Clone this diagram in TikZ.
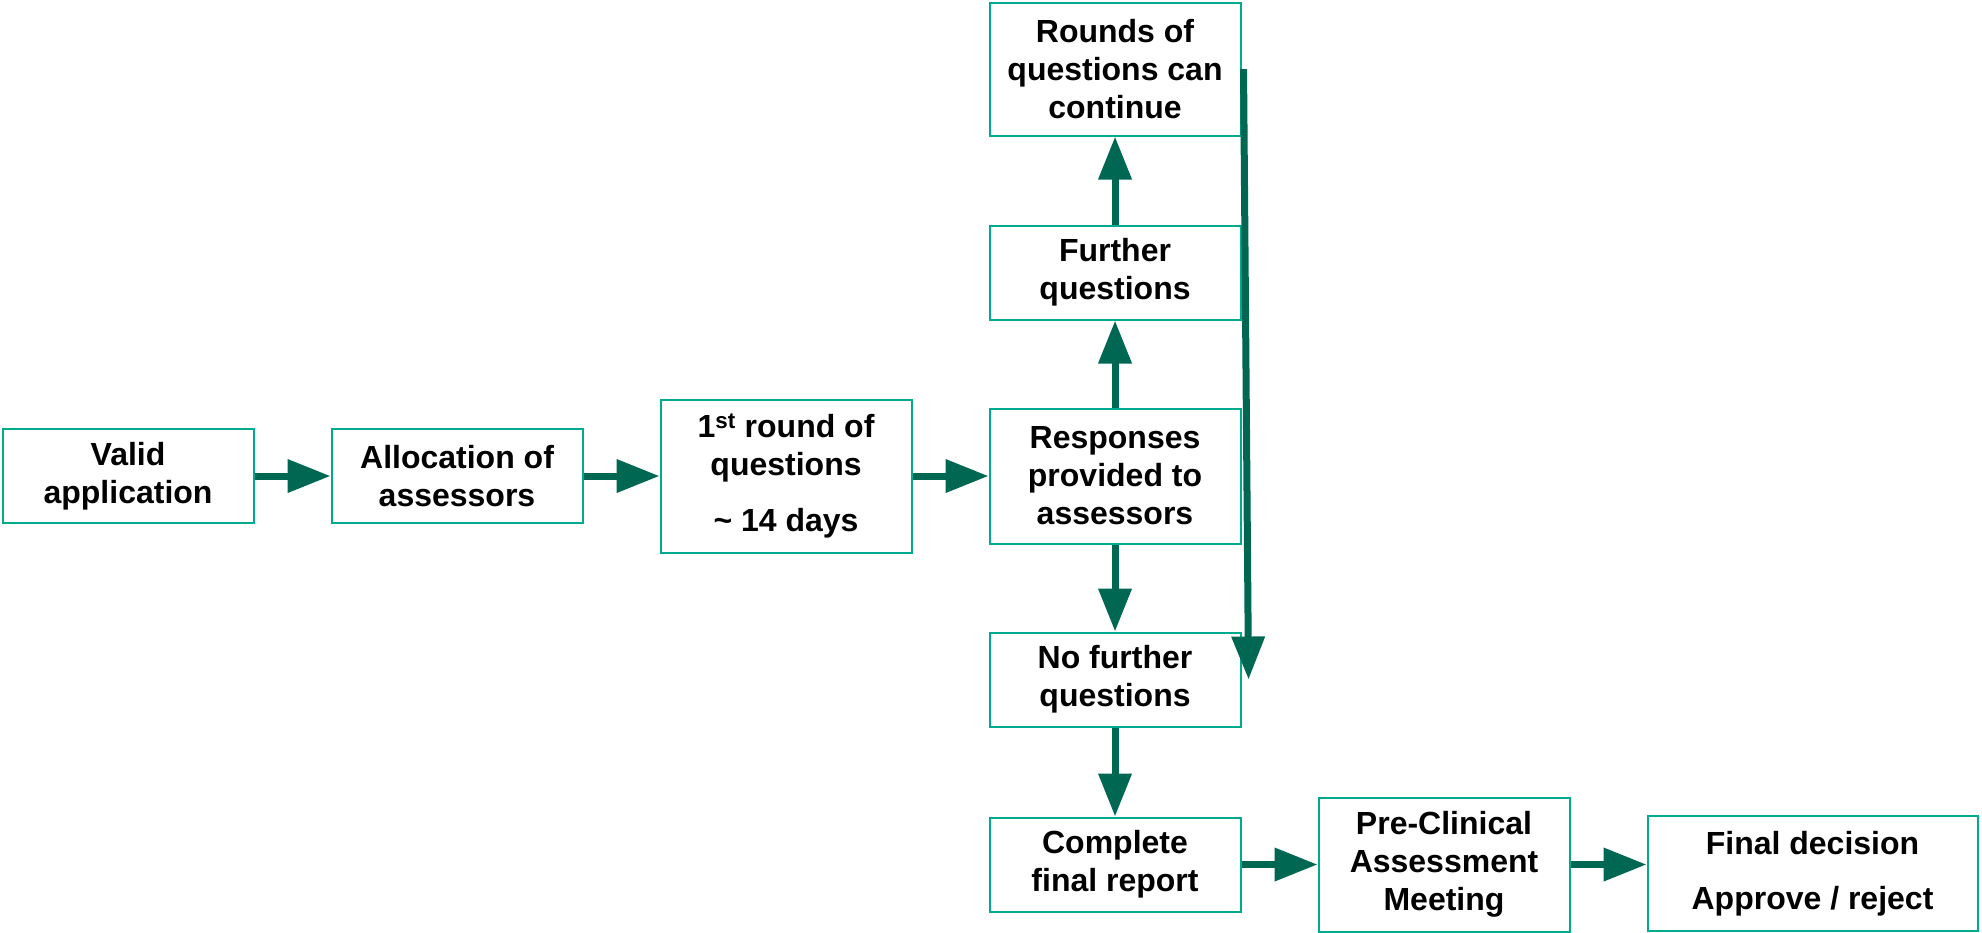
\documentclass[tikz,border=0pt]{standalone}
\usepackage{fontspec}
\setmainfont{Liberation Sans}
\usetikzlibrary{matrix,arrows.meta}
\definecolor{boxline}{RGB}{0,170,142}
\definecolor{flowgreen}{RGB}{0,104,82}

\begin{document}
\begin{tikzpicture}[
box/.style={
  draw=boxline,
  line width=2pt,
  minimum width=251pt,
  minimum height=94pt,
  align=center,
  anchor=center,
  font=\fontsize{32}{38}\selectfont\bfseries
  },
net/.style={
  column sep=76pt,
  row sep={203.5pt,between origins}
  },
flow/.style={
  draw=flowgreen,
  line width=7pt,
  -{Triangle[length=43pt,width=32pt]}
  }
]
\useasboundingbox (0,0) rectangle (1982pt,-933pt);
\matrix[net,anchor=north west] (mat) at (-2pt,2pt)
{
 & & & \node[box,minimum height=133pt] (rounds) {Rounds of\\questions can\\continue}; & & \\
 & & & \node[box] (further) {Further\\questions}; & & \\
\node[box] (valid) {Valid\\application}; &
\node[box] (alloc) {Allocation of\\assessors}; &
\node[box,minimum height=153pt] (first) {1\textsuperscript{st} round of\\questions\\[18pt]\textasciitilde{} 14 days}; &
\node[box,minimum height=135pt] (resp) {Responses\\provided to\\assessors}; & & \\
 & & & \node[box] (nofurther) {No further\\questions}; & & \\[-18.5pt]
 & & & \node[box] (report) {Complete\\final report}; &
\node[box,minimum height=134pt] (meeting) {Pre-Clinical\\Assessment\\Meeting}; &
\node[box,minimum width=330pt,minimum height=115pt,yshift=-9pt] (decision) {Final decision\\[17pt]Approve / reject}; \\
};
\foreach \from/\to in {valid/alloc,alloc/first,first/resp,resp/further,further/rounds,resp/nofurther,nofurther/report,report/meeting}
  \draw[flow] (\from) -- (\to);
\draw[flow] (meeting.east) -- (meeting.east -| decision.west);
% rounds can go back to the end
\draw[flow] ([xshift=2pt]rounds.east) -- ([xshift=7pt]nofurther.east);

\end{tikzpicture}
\end{document}
